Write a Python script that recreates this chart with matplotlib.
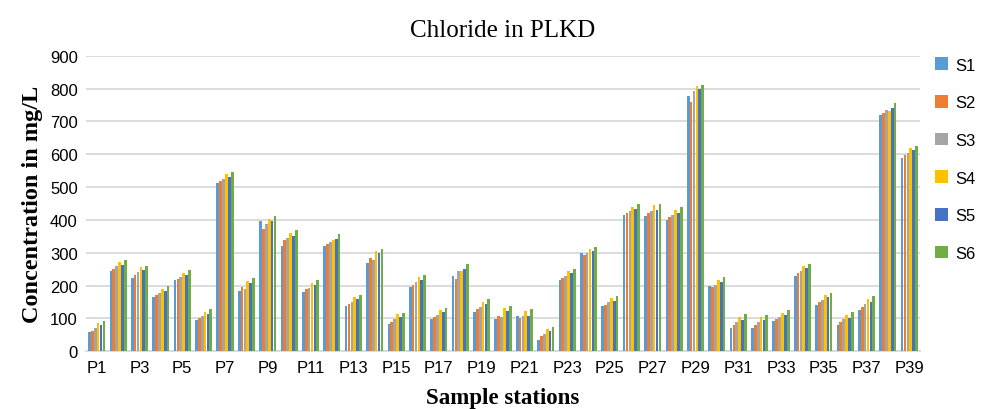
import matplotlib
matplotlib.use('Agg')
import numpy as np
import matplotlib.pyplot as plt

# Chloride concentration (mg/L) per station, six sampling rounds
stations = ['P%d' % i for i in range(1, 40)]
s1 = [58, 243, 224, 166, 217, 95, 513, 185, 398, 320, 182, 320, 137, 270, 83, 196, 99, 230, 120, 99,
      108, 33, 217, 299, 137, 415, 413, 400, 777, 200, 71, 72, 92, 229, 141, 81, 127, 720, 589]
s2 = [62, 250, 232, 171, 220, 100, 518, 195, 371, 338, 190, 328, 144, 283, 90, 202, 105, 220, 129, 108,
      101, 46, 223, 293, 142, 421, 420, 408, 760, 196, 80, 81, 98, 238, 150, 89, 136, 727, 597]
s3 = [72, 259, 241, 177, 227, 108, 525, 191, 389, 344, 194, 333, 150, 278, 98, 210, 112, 245, 136, 104,
      108, 54, 229, 299, 149, 427, 427, 416, 793, 203, 88, 89, 105, 246, 157, 98, 144, 734, 604]
s4 = [87, 271, 256, 191, 238, 120, 539, 214, 403, 360, 209, 339, 165, 306, 113, 225, 126, 245, 150, 132,
      122, 67, 244, 311, 162, 440, 445, 431, 807, 218, 104, 104, 117, 260, 171, 112, 159, 731, 619]
s5 = [80, 264, 249, 184, 232, 114, 532, 207, 396, 352, 202, 341, 159, 298, 104, 218, 119, 252, 143, 124,
      108, 61, 238, 305, 154, 433, 429, 422, 798, 210, 95, 96, 111, 253, 164, 102, 150, 740, 612]
s6 = [92, 279, 261, 199, 247, 129, 545, 222, 411, 368, 217, 356, 170, 310, 118, 231, 133, 265, 159, 138,
      128, 75, 250, 318, 169, 448, 450, 439, 812, 225, 113, 112, 125, 265, 177, 119, 168, 756, 625]

series = [s1, s2, s3, s4, s5, s6]
names = ['S1', 'S2', 'S3', 'S4', 'S5', 'S6']
colors = ['#5B9BD5', '#ED7D31', '#A5A5A5', '#FFC000', '#4472C4', '#70AD47']

fig = plt.figure(figsize=(9.84, 4.10), dpi=100)
ax = fig.add_axes([86 / 984, (410 - 352.3) / 410, (920 - 86) / 984, (352.3 - 56.7) / 410])

x = np.arange(len(stations))
step = 0.135
for k, (vals, name, col) in enumerate(zip(series, names, colors)):
    ax.bar(x + (k - 2.5) * step, vals, width=0.125, color=col, label=name, zorder=3)

ax.set_xlim(-0.5, len(stations) - 0.5)
ax.set_ylim(0, 900)
ax.set_yticks(range(0, 901, 100))
ax.set_xticks(x[::2])
ax.set_xticklabels(stations[::2])
ax.grid(axis='y', color='#D9D9D9', linewidth=1.3, zorder=0)
for s in ['top', 'right', 'left']:
    ax.spines[s].set_visible(False)
ax.spines['bottom'].set_color('#D9D9D9')
ax.spines['bottom'].set_linewidth(1.3)
ax.tick_params(length=0, labelsize=12, colors='#000000', pad=6)
for lbl in ax.get_xticklabels() + ax.get_yticklabels():
    lbl.set_family('Liberation Sans')

ax.set_title('Chloride in PLKD', family='Liberation Serif', fontsize=18, pad=14)
ax.set_ylabel('Concentration in mg/L', family='Liberation Serif', fontweight='bold', fontsize=17.5, labelpad=5)
ax.set_xlabel('Sample stations', family='Liberation Serif', fontweight='bold', fontsize=16.5, labelpad=9)

leg = ax.legend(loc='upper left', bbox_to_anchor=(1.0, 1.045), frameon=False,
                prop={'family': 'Liberation Sans', 'size': 12},
                handlelength=0.8, handleheight=0.8, labelspacing=1.35, handletextpad=0.4)

fig.savefig('out.png', dpi=100)
